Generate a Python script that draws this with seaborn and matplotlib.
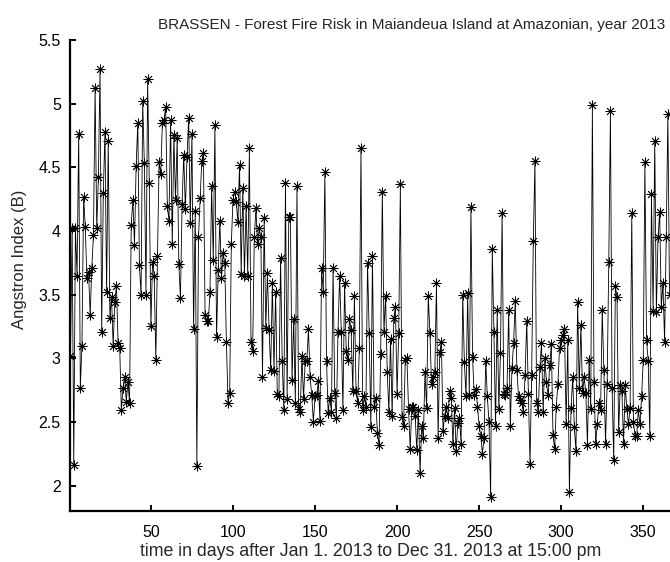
import matplotlib
matplotlib.use("Agg")
import matplotlib.pyplot as plt
import seaborn as sns
import numpy as np
import pandas as pd

title = "BRASSEN - Forest Fire Risk in Maiandeua Island at Amazonian, year 2013"
xlabel = "time in days after Jan 1. 2013 to Dec 31. 2013 at 15:00 pm"
ylabel = "Angstron Index (B)"

xticks = [50, 100, 150, 200, 250, 300, 350]
yticks = [2, 2.5, 3, 3.5, 4, 4.5, 5, 5.5]
ytick_labels = ["2", "2.5", "3", "3.5", "4", "4.5", "5", "5.5"]

# Angstrom index, one value per day (days 1..60)
b_q1a = [3.02, 4.02, 2.16, 4.02, 3.65, 4.76, 2.77, 3.10, 4.27, 4.03,
         3.63, 3.68, 3.34, 3.71, 3.97, 5.12, 4.02, 4.42, 5.27, 3.21,
         4.30, 4.78, 3.52, 4.71, 3.32, 3.48, 3.10, 3.44, 3.57, 3.12,
         3.08, 2.59, 2.77, 2.85, 2.66, 2.81, 2.65, 4.05, 4.24, 3.89,
         4.51, 4.85, 3.73, 3.50, 5.02, 4.53, 3.50, 5.19, 4.38, 3.25,
         3.76, 3.65, 2.99, 3.80, 4.54, 4.45, 4.85, 4.87, 4.97, 4.20]
# days 61..120
b_q1b = [4.08, 4.87, 3.90, 4.75, 4.24, 4.73, 3.74, 3.47, 4.21, 4.60,
         4.17, 4.58, 4.89, 4.06, 4.76, 3.23, 4.16, 2.15, 3.95, 4.26,
         4.55, 4.61, 3.34, 3.29, 3.29, 3.52, 4.35, 3.77, 4.83, 3.17,
         3.69, 4.08, 3.63, 3.83, 3.75, 3.13, 2.65, 2.73, 3.90, 4.24,
         4.31, 4.23, 4.07, 4.52, 3.66, 4.34, 3.65, 4.20, 3.65, 4.65,
         3.13, 3.06, 3.95, 4.18, 3.90, 4.02, 3.95, 2.85, 4.10, 3.24]
# days 121..183
b_q2 = [3.67, 3.22, 2.91, 3.59, 2.90, 3.52, 2.72, 2.70, 3.79, 2.98,
        2.59, 4.38, 2.68, 4.11, 4.11, 2.83, 3.31, 2.65, 4.35, 2.60,
        2.58, 3.02, 2.68, 2.98, 2.98, 3.23, 2.85, 2.71, 2.50, 2.70,
        2.71, 2.82, 2.51, 3.71, 3.52, 4.46, 2.98, 2.57, 2.69, 2.58,
        3.71, 2.73, 2.53, 3.21, 3.65, 3.21, 2.59, 3.59, 3.06, 2.99,
        3.31, 3.22, 2.74, 3.49, 2.74, 2.65, 3.08, 4.65, 2.59, 2.70,
        2.62, 3.75, 3.20]
# days 184..242
b_q3a = [2.46, 3.80, 2.62, 2.69, 2.41, 2.32, 3.03, 4.31, 3.21, 3.49,
         2.89, 2.58, 3.15, 2.55, 3.32, 3.40, 2.72, 3.20, 4.37, 2.54,
         2.47, 2.99, 3.00, 2.60, 2.29, 2.62, 2.62, 2.55, 2.28, 2.59,
         2.10, 2.47, 2.37, 2.89, 2.61, 3.49, 3.20, 2.80, 2.85, 2.89,
         3.59, 2.37, 3.05, 3.13, 2.43, 2.55, 2.62, 2.53, 2.74, 2.69,
         2.33, 2.61, 2.27, 2.49, 2.53, 2.33, 3.50, 2.97, 2.70]
# days 243..305
b_q3b = [3.51, 2.71, 4.19, 3.01, 2.71, 2.76, 2.62, 2.47, 2.39, 2.25,
         2.37, 2.98, 2.70, 2.50, 1.91, 3.86, 3.21, 2.47, 3.38, 2.60,
         3.04, 4.14, 2.72, 2.71, 2.77, 3.38, 2.47, 2.92, 3.12, 3.45,
         2.91, 2.70, 2.67, 2.65, 2.58, 2.87, 3.29, 2.72, 2.17, 2.87,
         3.92, 4.55, 2.65, 2.58, 2.93, 3.12, 2.58, 3.00, 2.81, 2.71,
         2.95, 3.11, 2.40, 2.29, 2.62, 2.80, 3.08, 3.14, 3.18, 3.23,
         2.48, 3.14, 1.95]
# days 306..366
b_q4 = [2.61, 2.85, 2.46, 2.27, 3.44, 2.77, 3.26, 2.73, 2.85, 2.73,
        2.32, 2.99, 2.60, 4.99, 2.81, 2.33, 2.48, 2.65, 2.59, 3.38,
        2.91, 2.33, 2.80, 3.76, 4.94, 2.77, 2.20, 3.57, 3.48, 2.42,
        2.79, 2.74, 2.33, 2.79, 2.60, 2.48, 2.61, 4.14, 2.50, 2.39,
        2.39, 2.59, 2.48, 2.70, 2.99, 4.54, 3.14, 2.98, 2.39, 4.29,
        3.37, 4.71, 3.36, 3.95, 4.15, 3.40, 3.59, 3.13, 3.95, 4.92,
        3.50]

angstrom = b_q1a + b_q1b + b_q2 + b_q3a + b_q3b + b_q4
days = list(range(1, len(angstrom) + 1))
df = pd.DataFrame({"day": days, "B": angstrom})

sns.set_style("ticks")
plt.rcParams["font.family"] = ["Liberation Sans", "DejaVu Sans"]
plt.rcParams["xtick.direction"] = "in"
plt.rcParams["ytick.direction"] = "in"

fig = plt.figure(figsize=(6.70, 5.62), dpi=100)
ax = fig.add_axes([0.1052, 0.0907, 0.8948, 0.8381])

sns.lineplot(data=df, x="day", y="B", ax=ax, color="black", linewidth=0.6,
             marker=(8, 2, 0), markersize=7, markeredgewidth=0.6,
             markeredgecolor="black", markerfacecolor="black", sort=True)

ax.set_xlim(1, 366.3)
ax.set_ylim(1.8, 5.5)
ax.set_xticks(xticks)
ax.set_xticklabels([str(t) for t in xticks])
ax.set_yticks(yticks)
ax.set_yticklabels(ytick_labels)

for s in ["top", "right"]:
    ax.spines[s].set_visible(False)
for s in ["left", "bottom"]:
    ax.spines[s].set_linewidth(1.6)
    ax.spines[s].set_color("black")
ax.tick_params(axis="both", which="major", length=4, width=1.4,
               labelsize=11.5, colors="black")
ax.tick_params(axis="x", pad=10)
ax.tick_params(axis="y", pad=7)

ax.set_xlabel(xlabel, fontsize=12.8, labelpad=2)
ax.set_ylabel(ylabel, fontsize=12.0)
ax.yaxis.set_label_coords(-0.072, 0.535)
ax.set_title(title, fontsize=11.0, x=0.569, pad=8)

fig.savefig("out.png", dpi=100)
